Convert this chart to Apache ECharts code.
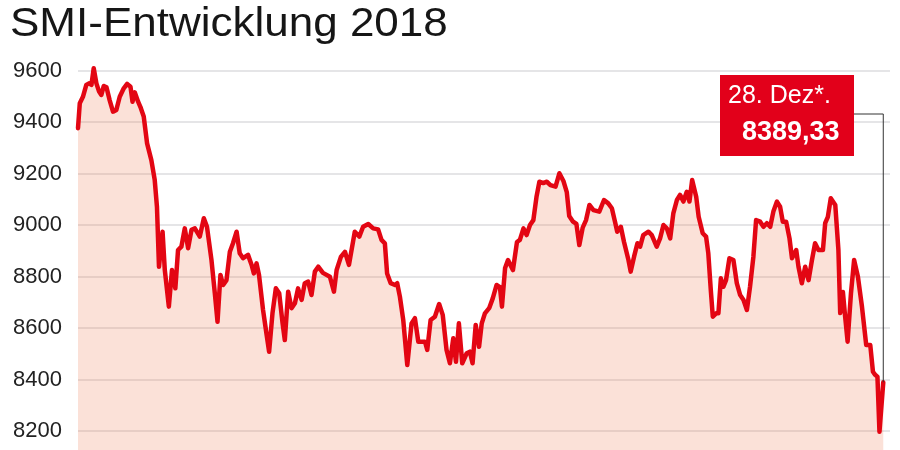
<!DOCTYPE html>
<html>
<head>
<meta charset="utf-8">
<script src="https://cdn.jsdelivr.net/npm/echarts@6/dist/echarts.min.js"></script>
<style>
html,body{margin:0;padding:0;background:#fff;}
#c{width:900px;height:450px;}
</style>
</head>
<body>
<div id="c"></div>
<script>
// Day of year 2018 (trading-day positions)
const days = [3.0,3.8,5.2,6.7,7.9,9.0,10.0,11.2,12.4,13.4,14.5,15.7,17.1,18.6,20.1,21.6,23.4,24.9,26.4,27.3,28.3,29.8,30.8,32.3,33.8,35.7,37.2,38.2,39.1,40.7,41.7,43.5,44.9,46.4,47.6,49.1,50.6,52.1,53.6,55.1,57.3,59.1,60.5,62.5,64.0,65.2,66.5,67.7,69.2,70.7,72.1,73.7,75.1,76.6,78.8,80.4,81.4,82.6,83.7,85.5,87.0,88.2,89.7,91.2,92.7,94.2,95.2,96.7,98.2,99.7,101.1,102.7,104.1,105.6,107.1,108.6,110.1,112.2,115.3,117.1,118.3,120.2,122.0,123.8,126.4,128.4,130.1,132.4,134.6,136.8,138.3,139.8,140.8,142.4,144.3,145.3,146.5,148.0,149.8,151.7,153.2,154.7,157.7,158.7,160.2,162.1,164.0,165.6,167.3,168.8,170.3,171.5,172.8,174.3,176.3,177.7,178.9,180.3,181.8,183.0,184.4,186.3,187.9,189.6,191.1,192.0,193.4,194.7,196.9,198.7,200.0,201.6,203.0,204.5,206.0,207.4,208.7,210.4,212.0,213.6,215.9,217.6,219.4,220.9,222.0,223.7,225.2,226.5,228.0,229.5,231.0,232.8,235.4,237.5,239.4,241.0,242.4,243.4,245.0,246.4,248.4,249.4,250.9,252.4,253.6,255.0,257.3,258.8,261.0,262.5,264.0,265.5,267.0,268.4,270.0,271.4,272.9,274.4,275.6,276.8,278.6,279.7,281.5,283.0,284.0,285.1,286.0,287.5,288.5,289.6,290.7,291.9,293.4,295.2,296.7,298.2,299.7,301.2,302.6,304.1,305.3,307.1,308.6,310.1,311.6,313.0,314.6,316.0,317.2,318.7,320.2,321.3,323.2,324.2,325.7,327.2,328.7,330.2,331.6,333.1,335.1,336.1,337.3,338.6,340.6,342.0,342.8,344.0,345.0,346.1,347.6,349.0,350.7,352.5,354.4,356.2,357.4,358.4,359.4,360.3,362.0];
// SMI closing values
const smi = [9376,9473,9498,9544,9550,9544,9609,9550,9518,9505,9540,9535,9485,9440,9447,9498,9531,9548,9537,9479,9515,9479,9459,9421,9317,9252,9175,9071,8838,8974,8825,8683,8825,8754,8903,8916,8987,8910,8981,8987,8955,9026,8993,8864,8735,8624,8806,8767,8786,8896,8929,8974,8890,8871,8884,8845,8812,8851,8806,8670,8579,8508,8657,8754,8735,8618,8553,8741,8677,8696,8754,8709,8774,8780,8728,8819,8838,8814,8799,8741,8825,8876,8896,8845,8974,8955,8993,9004,8987,8983,8942,8929,8812,8774,8767,8774,8722,8631,8456,8618,8638,8547,8547,8515,8631,8644,8693,8651,8515,8463,8560,8469,8618,8463,8502,8508,8463,8612,8527,8618,8657,8677,8715,8767,8759,8683,8833,8864,8825,8934,8942,8987,8961,9000,9019,9109,9168,9163,9168,9155,9149,9201,9171,9128,9035,9013,9004,8922,8990,9019,9078,9058,9052,9097,9084,9065,9013,8974,8993,8935,8864,8819,8877,8929,8916,8961,8974,8961,8916,8948,9000,8987,8948,9045,9097,9117,9091,9129,9091,9175,9110,9032,8968,8955,8890,8748,8644,8657,8657,8793,8760,8786,8871,8864,8774,8728,8709,8670,8760,8877,9019,9013,8993,9007,8993,9052,9091,9071,9013,9013,8948,8871,8903,8838,8774,8838,8786,8864,8929,8903,8903,9007,9032,9104,9078,8903,8658,8740,8644,8547,8735,8864,8799,8683,8534,8534,8430,8418,8411,8197,8389.33];
const titleText = 'SMI-Entwicklung 2018';
const calloutDate = '28. Dez*.';
const calloutValue = '8389,33';

const chart = echarts.init(document.getElementById('c'), null, {renderer:'canvas'});
const FONT = '"Liberation Sans", Arial, Helvetica, sans-serif';
const points = days.map((d,i)=>[d, smi[i]]);

chart.setOption({
  animation:false,
  backgroundColor:'#ffffff',
  grid:{left:78, right:10, top:70.5, bottom:-32.5, containLabel:false, outerBoundsMode:'none'},
  xAxis:{type:'value', min:3, max:365, show:false},
  yAxis:{
    type:'value', min:8000, max:9600, interval:200,
    axisLine:{show:false}, axisTick:{show:false},
    axisLabel:{color:'#222', fontSize:22, fontFamily:FONT, margin:16, formatter:(v)=>String(v)},
    splitLine:{lineStyle:{color:'#dcdcdf', width:1.5}}
  },
  series:[{
    type:'line', data:points, showSymbol:false, clip:false, smooth:false,
    lineStyle:{color:'#e30613', width:4.5, join:'round', cap:'round'},
    areaStyle:{color:'rgba(238,130,90,0.34)', origin:'start'},
    z:3
  }]
});

const last = points[points.length-1];
const end = chart.convertToPixel({gridIndex:0}, last);
chart.setOption({
  graphic:[
    {type:'text', x:10, y:25, scaleX:1.1, style:{text:titleText, font:'40px '+FONT, fill:'#161616', verticalAlign:'middle', align:'left'}},
    {type:'polyline', shape:{points:[[854,114],[end[0],114],[end[0],end[1]]]}, style:{stroke:'#333', lineWidth:1, fill:null}, z:10},
    {type:'rect', shape:{x:720, y:75, width:134, height:81}, style:{fill:'#e2001a'}, z:11},
    {type:'text', x:728, y:96, style:{text:calloutDate, font:'25px '+FONT, fill:'#ffffff', verticalAlign:'middle', align:'left'}, z:12},
    {type:'text', x:742, y:133, style:{text:calloutValue, font:'bold 27px '+FONT, fill:'#ffffff', verticalAlign:'middle', align:'left'}, z:12}
  ]
});
</script>
</body>
</html>
